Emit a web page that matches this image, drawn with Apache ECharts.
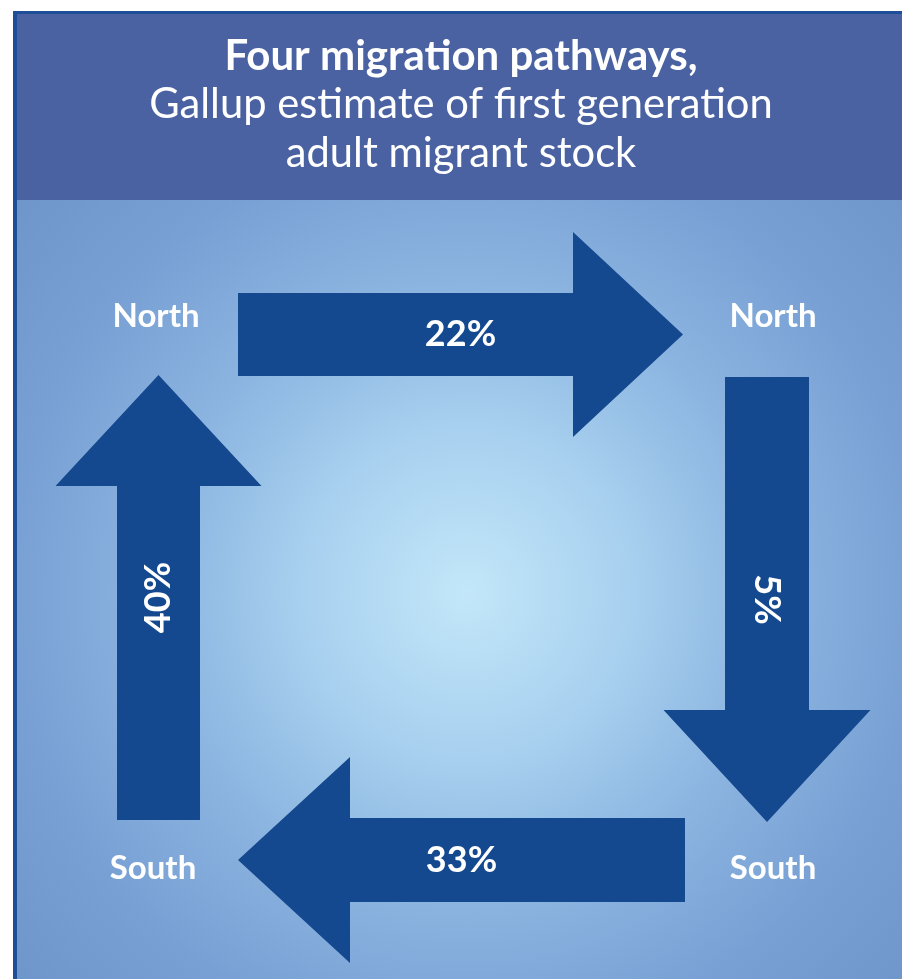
<!DOCTYPE html>
<html>
<head>
<meta charset="utf-8">
<script src="https://cdn.jsdelivr.net/npm/echarts@6/dist/echarts.min.js"></script>
<style>
  html, body { margin: 0; padding: 0; background: #ffffff; }
  #chart { width: 902px; height: 979px; }
</style>
</head>
<body>
<div id="chart"></div>
<script>
// ---- data ----
const titleLines = ['Four migration pathways,', 'Gallup estimate of first generation', 'adult migrant stock'];
const pathways = ['North → North', 'North → South', 'South → South', 'South → North'];
const shares = [22, 5, 33, 40];
const nodeNames = ['North', 'North', 'South', 'South'];

// ---- layout (pixel-space axis units) ----
const arrowLayout = [
  { dir: 'right', from: 238, to: 683, c: 334.5, shaft: 41.5, head: 110, headHalf: 102.5, rot: 0 },
  { dir: 'down',  from: 377, to: 822, c: 767,   shaft: 42,   head: 112, headHalf: 103.5, rot: -Math.PI / 2 },
  { dir: 'left',  from: 685, to: 238, c: 860,   shaft: 42,   head: 112, headHalf: 103,   rot: 0 },
  { dir: 'up',    from: 820, to: 375, c: 158.5, shaft: 41.5, head: 111, headHalf: 103,   rot: Math.PI / 2 }
];
const nodeLayout = [[156, 316], [773, 316], [773, 868], [153, 868]];

const FONT = 'Lato, "Open Sans", sans-serif';
const ARROW = '#14488f';

function arrowPoints(L) {
  const s = L.to > L.from ? 1 : -1;
  const hb = L.to - s * L.head;
  let pts = [
    [L.from, L.c - L.shaft], [hb, L.c - L.shaft], [hb, L.c - L.headHalf],
    [L.to, L.c], [hb, L.c + L.headHalf], [hb, L.c + L.shaft], [L.from, L.c + L.shaft]
  ];
  if (L.dir === 'down' || L.dir === 'up') pts = pts.map(p => [p[1], p[0]]);
  return pts;
}

const chart = echarts.init(document.getElementById('chart'), null, { renderer: 'canvas' });

chart.setOption({
  animation: false,
  grid: { left: 0, right: 0, top: 0, bottom: 0 },
  xAxis: { type: 'value', min: 0, max: 902, show: false },
  yAxis: { type: 'value', min: 0, max: 979, inverse: true, show: false },
  graphic: [
    { type: 'rect', z: -10, shape: { x: 0, y: 0, width: 902, height: 979 }, style: { fill: '#ffffff' } },
    { type: 'rect', z: -9, shape: { x: 13, y: 11, width: 889, height: 968 }, style: { fill: '#1e4e98' } },
    { type: 'rect', z: -8, shape: { x: 17, y: 14, width: 885, height: 186 }, style: { fill: '#4a62a2' } },
    { type: 'rect', z: -8, shape: { x: 17, y: 200, width: 885, height: 779 },
      style: { fill: { type: 'radial', x: 0.508, y: 0.504, r: 0.78,
        colorStops: [
          { offset: 0, color: '#c3e7f9' },
          { offset: 0.25, color: '#aad2f0' },
          { offset: 0.5, color: '#8cb5e1' },
          { offset: 0.75, color: '#78a0d4' },
          { offset: 1, color: '#6e95ca' }
        ] } } },
    { type: 'text', z: 5, x: 461, y: 56, style: { text: titleLines[0], fill: '#ffffff', font: 'bold 42px ' + FONT, textAlign: 'center', textVerticalAlign: 'middle' } },
    { type: 'text', z: 5, x: 461, y: 105, style: { text: titleLines[1], fill: '#ffffff', font: '41.7px ' + FONT, textAlign: 'center', textVerticalAlign: 'middle' } },
    { type: 'text', z: 5, x: 461, y: 154, style: { text: titleLines[2], fill: '#ffffff', font: '41.7px ' + FONT, textAlign: 'center', textVerticalAlign: 'middle' } }
  ],
  series: [
    {
      type: 'custom',
      name: 'Migration pathways',
      data: shares.map((v, i) => ({ name: pathways[i], value: [i, v] })),
      renderItem: function (params, api) {
        const i = api.value(0);
        const L = arrowLayout[i];
        const pts = arrowPoints(L).map(p => api.coord(p));
        const mid = (L.from + L.to) / 2;
        const center = (L.dir === 'down' || L.dir === 'up') ? api.coord([L.c, mid]) : api.coord([mid, L.c]);
        return {
          type: 'group',
          children: [
            { type: 'polygon', shape: { points: pts }, style: { fill: ARROW } },
            { type: 'text', x: center[0], y: center[1], rotation: L.rot,
              style: { text: api.value(1) + '%', fill: '#ffffff', font: 'bold 36px ' + FONT, textAlign: 'center', textVerticalAlign: 'middle' } }
          ]
        };
      }
    },
    {
      type: 'scatter',
      name: 'Regions',
      symbolSize: 0,
      silent: true,
      itemStyle: { opacity: 1 },
      data: nodeNames.map((n, i) => ({ name: n, value: nodeLayout[i] })),
      label: { show: true, position: 'inside', formatter: '{b}', color: '#ffffff', opacity: 1, fontFamily: 'Lato, "Open Sans", sans-serif', fontWeight: 'bold', fontSize: 33 }
    }
  ]
});
</script>
</body>
</html>
